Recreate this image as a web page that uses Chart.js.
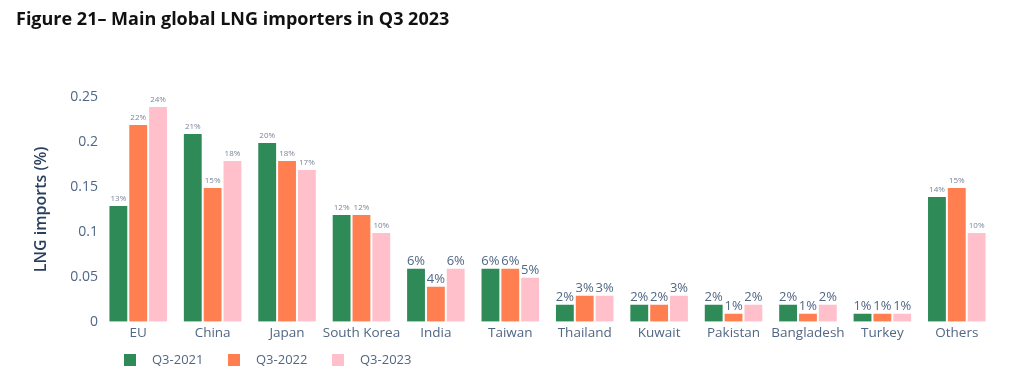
<!DOCTYPE html>
<html>
<head>
<meta charset="utf-8">
<script src="https://cdn.jsdelivr.net/npm/chart.js@4.4.0/dist/chart.umd.min.js"></script>
<style>
    html, body { margin: 0; padding: 0; background: #fff; }
    #wrap { position: relative; width: 1024px; height: 375px; }
    #title {
        position: absolute; left: 16px; top: 6px;
        font-family: "Open Sans", sans-serif; font-weight: 700; font-size: 18px;
        color: #111;
    }
    canvas { position: absolute; left: 0; top: 0; }
</style>
</head>
<body>
<div id="wrap">
    <canvas id="lngCanvas" width="1024" height="375"></canvas>
    <div id="title">Figure 21– Main global LNG importers in Q3 2023</div>
</div>
<script>
// Data
const categories = ['EU', 'China', 'Japan', 'South Korea', 'India', 'Taiwan', 'Thailand', 'Kuwait', 'Pakistan', 'Bangladesh', 'Turkey', 'Others'];
const seriesNames = ['Q3-2021', 'Q3-2022', 'Q3-2023'];
const q3_2021 = [0.13, 0.21, 0.20, 0.12, 0.06, 0.06, 0.02, 0.02, 0.02, 0.02, 0.01, 0.14];
const q3_2022 = [0.22, 0.15, 0.18, 0.12, 0.04, 0.06, 0.03, 0.02, 0.01, 0.01, 0.01, 0.15];
const q3_2023 = [0.24, 0.18, 0.17, 0.10, 0.06, 0.05, 0.03, 0.03, 0.02, 0.02, 0.01, 0.10];
const yTicks = [0, 0.05, 0.1, 0.15, 0.2, 0.25];
const colors = ['#2E8B57', '#FF7F50', '#FFC0CB'];

const FONT = '"Open Sans", sans-serif';
const TEXT_COLOR = '#506784';

// Percentage labels above bars (small when bar is tall, like plotly auto text)
const barLabels = {
    id: 'barLabels',
    afterDatasetsDraw(chart) {
        const ctx = chart.ctx;
        ctx.save();
        ctx.textAlign = 'center';
        ctx.textBaseline = 'bottom';
        chart.data.datasets.forEach((ds, i) => {
            chart.getDatasetMeta(i).data.forEach((bar, j) => {
                const v = ds.data[j];
                const small = v >= 0.1;
                ctx.font = (small ? '8px ' : '13px ') + FONT;
                ctx.fillStyle = small ? '#7a8699' : TEXT_COLOR;
                ctx.fillText(Math.round(v * 100) + '%', bar.x, bar.y - (small ? 2 : 0));
            });
        });
        ctx.restore();
    }
};

// Legend row under the axis
const bottomLegend = {
    id: 'bottomLegend',
    afterDraw(chart) {
        const ctx = chart.ctx;
        const xs = [124, 228, 332];
        const y = 360;
        ctx.save();
        ctx.font = '13px ' + FONT;
        ctx.textBaseline = 'middle';
        seriesNames.forEach((name, i) => {
            ctx.fillStyle = colors[i];
            ctx.fillRect(xs[i], y - 6, 12, 12);
            ctx.fillStyle = TEXT_COLOR;
            ctx.fillText(name, xs[i] + 28, y);
        });
        ctx.restore();
    }
};

new Chart(document.getElementById('lngCanvas'), {
    type: 'bar',
    data: {
        labels: categories,
        datasets: [q3_2021, q3_2022, q3_2023].map((d, i) => ({
            label: seriesNames[i],
            data: d,
            backgroundColor: colors[i],
            borderColor: 'rgba(255,255,255,0.5)',
            borderWidth: 1,
            barPercentage: 1.0,
            categoryPercentage: 0.8
        }))
    },
    options: {
        responsive: false,
        animation: false,
        layout: { padding: { top: 97, right: 30, bottom: 31, left: 32 } },
        plugins: {
            legend: { display: false },
            tooltip: { enabled: false }
        },
        scales: {
            x: {
                grid: { display: false, tickLength: 0 },
                border: { display: false },
                ticks: { color: TEXT_COLOR, font: { family: FONT, size: 13.5 }, maxRotation: 0, autoSkip: false, padding: 3 }
            },
            y: {
                min: 0,
                max: 0.25,
                afterBuildTicks(scale) {
                    scale.ticks = yTicks.map(v => ({ value: v }));
                },
                afterFit(scale) { scale.width = 69; },
                grid: { display: false },
                border: { display: false },
                ticks: {
                    color: TEXT_COLOR,
                    font: { family: FONT, size: 14 },
                    padding: -5,
                    callback: v => String(v)
                },
                title: {
                    display: true,
                    text: 'LNG imports (%)',
                    color: '#2a3f5f',
                    font: { family: FONT, size: 16, weight: '600' },
                    padding: 0
                }
            }
        }
    },
    plugins: [barLabels, bottomLegend]
});
</script>
</body>
</html>
